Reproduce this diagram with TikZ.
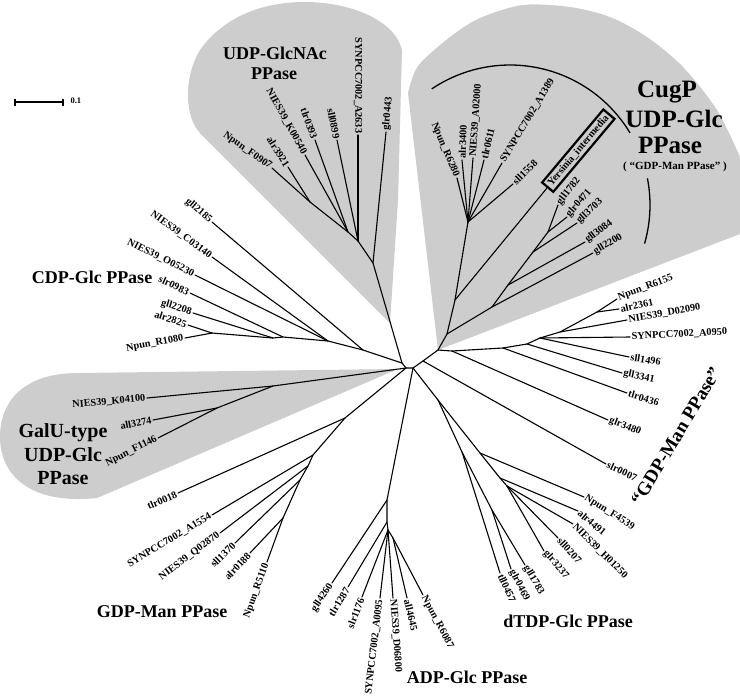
\documentclass[tikz,border=0pt]{standalone}
\usepackage{fontspec}
\setmainfont{Liberation Serif}
\definecolor{clade}{RGB}{205,205,205}
\newcommand\tleaf[5][]{%
  \coordinate (#3) at (#4);
  \draw[br] (#2) -- (#3);
  \pgfmathanglebetweenpoints{\pgfpointanchor{#2}{center}}{\pgfpointanchor{#3}{center}}%
  \let\lfang\pgfmathresult
  \def\lftmp{#1}%
  \ifx\lftmp\empty
    \pgfmathsetmacro\lfrot{cos(\lfang)<0 ? \lfang+180 : \lfang}%
  \else
    \def\lfrot{#1}%
  \fi
  \pgfmathsetmacro\lfc{cos(\lfrot-\lfang)}%
  \ifdim\lfc pt>0pt \def\lfanc{west}\else\def\lfanc{east}\fi
  \node[lab, rotate=\lfrot, anchor=\lfanc] (#3-l) at (#3) {#5};
}
\begin{document}
\begin{tikzpicture}[x=1pt,y=-1pt,
  br/.style={line width=1.1pt, line cap=round},
  lab/.style={font=\bfseries\fontsize{10.3}{12}\selectfont, inner sep=1.5pt},
  big/.style={font=\bfseries\fontsize{18}{20}\selectfont, anchor=base},
  bigg/.style={font=\bfseries\fontsize{20}{22}\selectfont, anchor=base},
  huge/.style={font=\bfseries\fontsize{25}{27}\selectfont, anchor=base},
  ybox/.style={lab, draw, line width=2.2pt, inner sep=3pt}]
\useasboundingbox (0,0) rectangle (740,697);

% ---- shaded clades ----
\fill[clade] (390,323) -- (200,133) .. controls (186,119) and (182,80) .. (200,50)
  .. controls (225,15) and (265,2) .. (305,2) .. controls (350,2) and (395,20) .. (402,50)
  -- (398,200) -- cycle;
\fill[clade] (438,350) -- (408,93) -- plot[smooth] coordinates {(408,93) (418,66) (450,37) (480,18) (523,5) (570,7) (610,17) (647,37) (683,67) (717,110) (740,157)} -- (740,234) -- cycle;
\fill[clade] (398,369) -- (78,373) .. controls (25,373) and (0,400) .. (0,437)
  .. controls (0,475) and (30,505) .. (97,498) -- cycle;

% ---- bracket arc (CugP) ----
\draw[line width=1.3pt] plot[domain=31:124, samples=50] ({510+140*cos(\x)},{205-140*sin(\x)});
\draw[line width=1.3pt] plot[domain=-16:11, samples=20] ({510+140*cos(\x)},{205-140*sin(\x)});

% ---- backbone ----
\coordinate (A) at (402,363);
\coordinate (B) at (406,368);
\coordinate (C) at (413,368);
\coordinate (C2) at (423,361);
\coordinate (D) at (438,350);
\draw[br] (A) -- (B) -- (C) -- (C2) -- (D);

% ---- UDP-GlcNAc ----
\coordinate (U0) at (373,263);
\coordinate (U1) at (358,241);
\coordinate (U2) at (348,232);
\coordinate (U3) at (310,202);
\draw[br] (A) -- (U0) -- (U1) -- (U2) -- (U3);
\tleaf{U0}{glr0443}{386,132}{glr0443}
\tleaf[-90]{U1}{A2633}{358,135}{SYNPCC7002\_A2633}
\tleaf{U1}{sll0899}{337,140}{sll0899}
\tleaf{U2}{tlr0393}{315,140}{tlr0393}
\tleaf{U2}{K00540}{305,155}{NIES39\_K00540}
\tleaf{U3}{alr3921}{288,167}{alr3921}
\tleaf[-35]{U3}{F0907}{272,168}{Npun\_F0907}

% ---- CDP-Glc ----
\coordinate (C0) at (363,350);
\coordinate (C1) at (328,341);
\coordinate (C2b) at (283,337);
\coordinate (C3) at (273,338);
\coordinate (C4) at (212,333);
\draw[br] (A) -- (C0) -- (C1) -- (C2b) -- (C3) -- (C4);
\tleaf{C0}{gll2185}{212,222}{gll2185}
\tleaf{C1}{C03140}{212,257}{NIES39\_C03140}
\tleaf{C1}{O05230}{195,275}{NIES39\_O05230}
\tleaf{C2b}{slr0983}{190,293}{slr0983}
\tleaf{C3}{gll2208}{193,313}{gll2208}
\tleaf{C4}{alr2825}{188,325}{alr2825}
\tleaf{C4}{R1080}{185,338}{Npun\_R1080}

% ---- GalU ----
\coordinate (G0) at (273,386);
\coordinate (G1) at (217,408);
\draw[br] (B) -- (G0) -- (G1);
\tleaf{G0}{K04100}{147,398}{NIES39\_K04100}
\tleaf{G1}{all3274}{153,420}{all3274}
\tleaf{G1}{F1146}{158,438}{Npun\_F1146}

% ---- GDP-Man ----
\coordinate (M0) at (345,418);
\coordinate (M1) at (313,455);
\coordinate (M2) at (308,466);
\coordinate (M3) at (300,480);
\coordinate (M4) at (283,518);
\draw[br] (B) -- (M0) -- (M1) -- (M2) -- (M3) -- (M4);
\tleaf{M0}{tlr0018}{178,493}{tlr0018}
\tleaf{M1}{A1554}{212,515}{SYNPCC7002\_A1554}
\tleaf{M2}{Q02870}{220,533}{NIES39\_Q02870}
\tleaf{M3}{sll1370}{235,543}{sll1370}
\tleaf{M4}{alr0188}{250,553}{alr0188}
\tleaf{M4}{R5110}{267,562}{Npun\_R5110}

% ---- ADP-Glc ----
\coordinate (P1) at (387,500);
\coordinate (P2) at (387,522);
\coordinate (P3) at (388,530);
\coordinate (P4) at (393,538);
\draw[br] (C) -- (P1) -- (P2) -- (P3) -- (P4);
\tleaf{P1}{gll4260}{332,583}{gll4260}
\tleaf{P2}{tlr1287}{348,587}{tlr1287}
\tleaf{P3}{slr1176}{362,597}{slr1176}
\tleaf{P3}{A0095}{380,598}{SYNPCC7002\_A0095}
\tleaf{P3}{D06800}{393,598}{NIES39\_D06800}
\tleaf{P4}{all4645}{407,598}{all4645}
\tleaf{P4}{R6087}{423,595}{Npun\_R6087}

% ---- dTDP-Glc ----
\coordinate (E) at (438,400);
\coordinate (K1) at (462,452);
\coordinate (K2) at (492,510);
\coordinate (J1) at (480,453);
\coordinate (J2) at (500,478);
\coordinate (J3) at (507,486);
\draw[br] (C) -- (E) -- (K1) -- (K2);
\draw[br] (E) -- (J1) -- (J2) -- (J3);
\tleaf[-65]{K1}{tll0457}{500,573}{tll0457}
\tleaf[-63]{K2}{glr0469}{511,569}{glr0469}
\tleaf[-60]{K2}{gll1783}{525,565}{gll1783}
\tleaf[-49]{J3}{glr3237}{544,551}{glr3237}
\tleaf[-47]{J3}{sll0207}{558,538}{sll0207}
\tleaf[-45]{J3}{H01250}{573,524}{NIES39\_H01250}
\tleaf[-40]{J2}{alr4491}{578,511}{alr4491}
\tleaf[-32]{J1}{F4539}{584,497}{Npun\_F4539}

% ---- right group ("GDP-Man PPase") ----
\coordinate (T0) at (452,351);
\coordinate (T1) at (503,348);
\coordinate (T2) at (527,344);
\coordinate (T3) at (540,338);
\coordinate (T4) at (560,332);
\coordinate (T5) at (597,312);
\draw[br] (D) -- (T0) -- (T1) -- (T2) -- (T3) -- (T4) -- (T5);
\tleaf[-25]{C2}{slr0007}{606,464}{slr0007}
\tleaf[-21]{T0}{glr3480}{608,420}{glr3480}
\tleaf[-17]{T1}{tlr0436}{627,393}{tlr0436}
\tleaf[-12]{T2}{gll3341}{622,373}{gll3341}
\tleaf[-9]{T3}{sll1496}{629,357}{sll1496}
\tleaf[3]{T3}{A0950}{630,337}{SYNPCC7002\_A0950}
\tleaf[10]{T4}{D02090}{627,320}{NIES39\_D02090}
\tleaf[12]{T5}{alr2361}{619,309}{alr2361}
\tleaf[21]{T5}{R6155}{617,299}{Npun\_R6155}

% ---- CugP ----
\coordinate (Q1) at (447,334);
\coordinate (Q2) at (455,300);
\coordinate (Q3) at (468,222);
\coordinate (R1) at (492,307);
\coordinate (R2) at (508,285);
\coordinate (R3) at (533,252);
\coordinate (R4) at (548,232);
\draw[br] (D) -- (Q1) -- (Q2) -- (Q3);
\draw[br] (Q1) -- (R1) -- (R2) -- (R3) -- (R4);
\tleaf[-67]{Q3}{R6280}{457,178}{Npun\_R6280}
\tleaf[88]{Q3}{alr3400}{462,160}{alr3400}
\tleaf[86]{Q3}{A02000}{473,158}{NIES39\_A02000}
\tleaf[77]{Q3}{tlr0611}{484,160}{tlr0611}
\tleaf[59]{Q3}{A1389}{502,163}{SYNPCC7002\_A1389}
\tleaf[45]{Q3}{sll1558}{513,184}{sll1558}
\tleaf[52]{R4}{gll1782}{558,205}{gll1782}
\tleaf[49]{R4}{glr0471}{567,217}{glr0471}
\tleaf[43]{R3}{gll3703}{577,223}{gll3703}
\tleaf[37]{R2}{gll3084}{585,242}{gll3084}
\tleaf[30]{R1}{gll2200}{593,253}{gll2200}
\coordinate (Y) at (547,188);
\draw[br] (Q2) -- (Y);
\node[ybox, rotate=50, anchor=west] (Ybox) at (Y) {Yersinia\_intermedia};

% ---- clade names ----
\node[big] (tGlcNAc1) at (275,59) {UDP-GlcNAc};
\node[big] (tGlcNAc2) at (274,79) {PPase};
\node[huge] (tCug1) at (667,97) {CugP};
\node[huge] (tCug2) at (674,127) {UDP-Glc};
\node[huge] (tCug3) at (670,153) {PPase};
\node[font=\bfseries\fontsize{11}{12}\selectfont, anchor=base] (tCug4) at (675,169) {( “GDP-Man PPase” )};
\node[big] (tCDP) at (92,283) {CDP-Glc PPase};
\node[bigg] (tGalU1) at (63,437) {GalU-type};
\node[bigg] (tGalU2) at (63,461) {UDP-Glc};
\node[bigg] (tGalU3) at (63,484) {PPase};
\node[big] (tGDP) at (162,617) {GDP-Man PPase};
\node[big] (tADP) at (467,683) {ADP-Glc PPase};
\node[big] (tdTDP) at (568,627) {dTDP-Glc PPase};
\node[font=\bfseries\fontsize{19}{21}\selectfont, rotate=59] (tGDPq) at (676,436) {“GDP-Man PPase”};

% ---- scale bar ----
\coordinate (sb1) at (15,102);
\coordinate (sb2) at (63,102);
\draw[line width=1.1pt] (sb1) -- (sb2);
\draw[line width=1.1pt] ([yshift=3.5pt]sb1) -- ([yshift=-3.5pt]sb1);
\draw[line width=1.1pt] ([yshift=3.5pt]sb2) -- ([yshift=-3.5pt]sb2);
\node[font=\bfseries\fontsize{8.5}{10}\selectfont, anchor=west] (sbl) at (67,101) {0.1};
\end{tikzpicture}
\end{document}
